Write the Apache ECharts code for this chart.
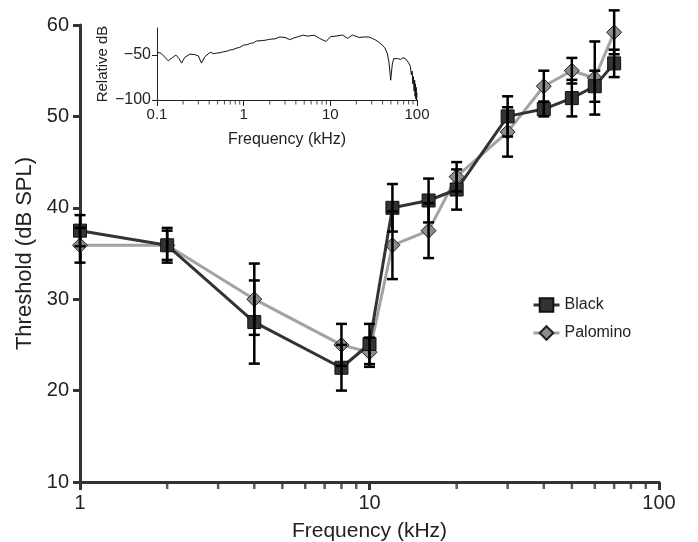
<!DOCTYPE html>
<html>
<head>
<meta charset="utf-8">
<script src="https://cdn.jsdelivr.net/npm/echarts@6/dist/echarts.min.js"></script>
<style>
html,body{margin:0;padding:0;background:#fff;}
#chart{width:698px;height:542px;}
</style>
</head>
<body>
<div id="chart"></div>
<script>
// ---------- data ----------
const freqKHz = [1, 2, 4, 8, 10, 12, 16, 20, 30, 40, 50, 60, 70];
const blackThr = [37.5, 35.9, 27.5, 22.5, 25.1, 40.0, 40.8, 42.0, 50.0, 50.8, 52.0, 53.3, 55.8];
const blackErr = [1.7, 1.9, 4.55, 2.5, 2.2, 2.6, 2.4, 2.2, 2.2, 0.8, 2.0, 1.7, 1.5];
const palominoThr = [35.9, 35.9, 30.0, 25.0, 24.2, 35.9, 37.5, 43.4, 48.3, 53.3, 55.0, 54.2, 59.2];
const palominoErr = [1.9, 1.6, 3.9, 2.3, 1.6, 3.7, 3.0, 1.6, 2.7, 1.7, 1.4, 4.0, 2.4];
const yTicks = [10, 20, 30, 40, 50, 60];
const mainMinorTicks = [2, 3, 4, 5, 6, 7, 8, 9, 20, 30, 40, 50, 60, 70, 80, 90];

const insetFreq = [0.1, 0.111, 0.122, 0.135, 0.15, 0.165, 0.18, 0.192, 0.21, 0.24, 0.27, 0.3, 0.326, 0.356, 0.41, 0.45, 0.48, 0.53, 0.58, 0.63, 0.69, 0.75, 0.82, 0.9, 1.0, 1.1, 1.2, 1.3, 1.4, 1.6, 1.8, 2.0, 2.3, 2.6, 3.0, 3.4, 3.8, 4.3, 4.8, 5.5, 6.5, 7.5, 8.9, 10.1, 11.6, 13.8, 15.8, 18, 21.5, 24, 27.8, 30.5, 33.4, 36.5, 39.7, 42.5, 45.4, 47.5, 49.7, 51.9, 54, 56.7, 60, 64.6, 69, 73.6, 77, 80.4, 84, 86, 88, 89.5, 91, 92.5, 94, 95, 96, 97, 98, 99, 100];
const insetDb = [-47, -48, -52, -56.5, -53, -50, -54, -59, -52.5, -49, -49.5, -51, -59, -52, -47, -48.5, -48, -47.5, -46.5, -46, -44.5, -44, -42.5, -41.5, -39, -38.5, -37, -36.5, -34.5, -34, -33.5, -32.5, -32, -30, -30.5, -33, -31, -29.5, -28, -29, -28, -31.5, -35, -29.5, -29, -27.8, -31.5, -27.8, -30.5, -30, -30, -31.5, -33.5, -36, -39, -42, -48, -58, -78, -60, -54, -52, -54, -55, -53, -54, -56, -59, -63, -72, -68, -82, -74, -90, -78, -96, -82, -99, -86, -100, -92];
const insetYTicks = [-100, -50];
const insetMinorTicks = [0.2, 0.3, 0.4, 0.5, 0.6, 0.7, 0.8, 0.9, 2, 3, 4, 5, 6, 7, 8, 9, 20, 30, 40, 50, 60, 70, 80, 90];

// ---------- chart ----------
const FONT = "'Liberation Sans', Arial, Helvetica, sans-serif";
const TXT = '#222';
const chart = echarts.init(document.getElementById('chart'), null, {renderer: 'canvas'});

function errData(vals, errs) {
  return freqKHz.map((f, i) => [f, vals[i] - errs[i], vals[i] + errs[i]]);
}
function errRender(params, api) {
  const x = api.value(0);
  const lo = api.coord([x, api.value(1)]);
  const hi = api.coord([x, api.value(2)]);
  const w = 5.5;
  const st = {stroke: '#000', lineWidth: 2.5};
  return {
    type: 'group',
    children: [
      {type: 'line', shape: {x1: lo[0], y1: lo[1], x2: hi[0], y2: hi[1]}, style: st},
      {type: 'line', shape: {x1: lo[0] - w, y1: lo[1], x2: lo[0] + w, y2: lo[1]}, style: st},
      {type: 'line', shape: {x1: hi[0] - w, y1: hi[1], x2: hi[0] + w, y2: hi[1]}, style: st}
    ]
  };
}
const minus = v => String(v).replace('-', '\u2212');

const option = {
  animation: false,
  backgroundColor: '#fff',
  textStyle: {fontFamily: FONT, color: TXT},
  grid: [
    {left: 80, top: 25, right: 39, bottom: 60, containLabel: false, outerBoundsMode: 'none'},
    {left: 157, top: 28, width: 260, height: 72, containLabel: false, outerBoundsMode: 'none'}
  ],
  legend: {
    data: ['Black', 'Palomino'],
    orient: 'vertical',
    left: 527,
    top: 292,
    itemWidth: 26,
    itemHeight: 17,
    itemGap: 12,
    lineStyle: {width: 3},
    textStyle: {fontFamily: FONT, fontSize: 16, color: TXT}
  },
  xAxis: [
    {
      gridIndex: 0, type: 'log', logBase: 10, min: 1, max: 100,
      name: 'Frequency (kHz)', nameLocation: 'middle', nameGap: 39,
      nameTextStyle: {fontFamily: FONT, fontSize: 21, color: TXT},
      axisLine: {lineStyle: {color: '#333', width: 3}},
      axisTick: {length: 8, lineStyle: {color: '#333', width: 3}},
      axisLabel: {fontFamily: FONT, fontSize: 20, color: TXT, margin: 11},
      splitLine: {show: false}
    },
    {
      gridIndex: 1, type: 'log', logBase: 10, min: 0.1, max: 100,
      name: 'Frequency (kHz)', nameLocation: 'middle', nameGap: 32,
      nameTextStyle: {fontFamily: FONT, fontSize: 16, color: TXT},
      axisLine: {lineStyle: {color: '#222', width: 1}},
      axisTick: {length: 6, lineStyle: {color: '#222', width: 1}},
      axisLabel: {fontFamily: FONT, fontSize: 15, color: TXT, margin: 7,
        formatter: v => String(v)},
      splitLine: {show: false}
    }
  ],
  yAxis: [
    {
      gridIndex: 0, type: 'value', min: yTicks[0], max: yTicks[yTicks.length - 1], interval: 10,
      name: 'Threshold (dB SPL)', nameLocation: 'middle', nameGap: 42,
      nameTextStyle: {fontFamily: FONT, fontSize: 22, color: TXT},
      axisLine: {show: true, lineStyle: {color: '#333', width: 3}},
      axisTick: {show: true, length: 7, lineStyle: {color: '#333', width: 3}},
      axisLabel: {fontFamily: FONT, fontSize: 20, color: TXT, margin: 11},
      splitLine: {show: false}
    },
    {
      gridIndex: 1, type: 'value', min: -100, max: -20,
      name: 'Relative dB', nameLocation: 'middle', nameGap: 47,
      nameTextStyle: {fontFamily: FONT, fontSize: 15, color: TXT},
      axisLine: {show: true, lineStyle: {color: '#222', width: 1}},
      axisTick: {show: true, length: 5, customValues: insetYTicks, lineStyle: {color: '#222', width: 1}},
      axisLabel: {fontFamily: FONT, fontSize: 16, color: TXT, margin: 6, customValues: insetYTicks,
        formatter: minus},
      splitLine: {show: false}
    }
  ],
  series: [
    {
      name: 'Palomino', type: 'line', xAxisIndex: 0, yAxisIndex: 0, z: 3,
      data: freqKHz.map((f, i) => [f, palominoThr[i]]),
      symbol: 'diamond', symbolSize: 15,
      lineStyle: {color: '#a3a3a3', width: 3},
      itemStyle: {color: '#8c8c8c', borderColor: '#222', borderWidth: 1}
    },
    {
      name: 'Black', type: 'line', xAxisIndex: 0, yAxisIndex: 0, z: 4,
      data: freqKHz.map((f, i) => [f, blackThr[i]]),
      symbol: 'rect', symbolSize: 13,
      lineStyle: {color: '#333', width: 3},
      itemStyle: {color: '#333', borderColor: '#111', borderWidth: 1}
    },
    {
      name: 'PalominoErr', type: 'custom', xAxisIndex: 0, yAxisIndex: 0, z: 5,
      renderItem: errRender, data: errData(palominoThr, palominoErr),
      encode: {x: 0, y: [1, 2]}, silent: true, clip: false
    },
    {
      name: 'BlackErr', type: 'custom', xAxisIndex: 0, yAxisIndex: 0, z: 5,
      renderItem: errRender, data: errData(blackThr, blackErr),
      encode: {x: 0, y: [1, 2]}, silent: true, clip: false
    },
    {
      name: 'mainMinor', type: 'scatter', xAxisIndex: 0, yAxisIndex: 0, z: 6,
      data: mainMinorTicks.map(v => [v, yTicks[0]]),
      symbol: 'rect', symbolSize: [2.5, 6], symbolOffset: [0, 4],
      itemStyle: {color: '#333'}, silent: true, clip: false
    },
    {
      name: 'spectrum', type: 'line', xAxisIndex: 1, yAxisIndex: 1, z: 3,
      data: insetFreq.map((f, i) => [f, insetDb[i]]),
      showSymbol: false, symbol: 'none',
      lineStyle: {color: '#111', width: 1}
    },
    {
      name: 'insetMinor', type: 'scatter', xAxisIndex: 1, yAxisIndex: 1, z: 6,
      data: insetMinorTicks.map(v => [v, -100]),
      symbol: 'rect', symbolSize: [1, 4], symbolOffset: [0, 2.5],
      itemStyle: {color: '#222'}, silent: true, clip: false
    }
  ]
};
chart.setOption(option);
</script>
</body>
</html>
